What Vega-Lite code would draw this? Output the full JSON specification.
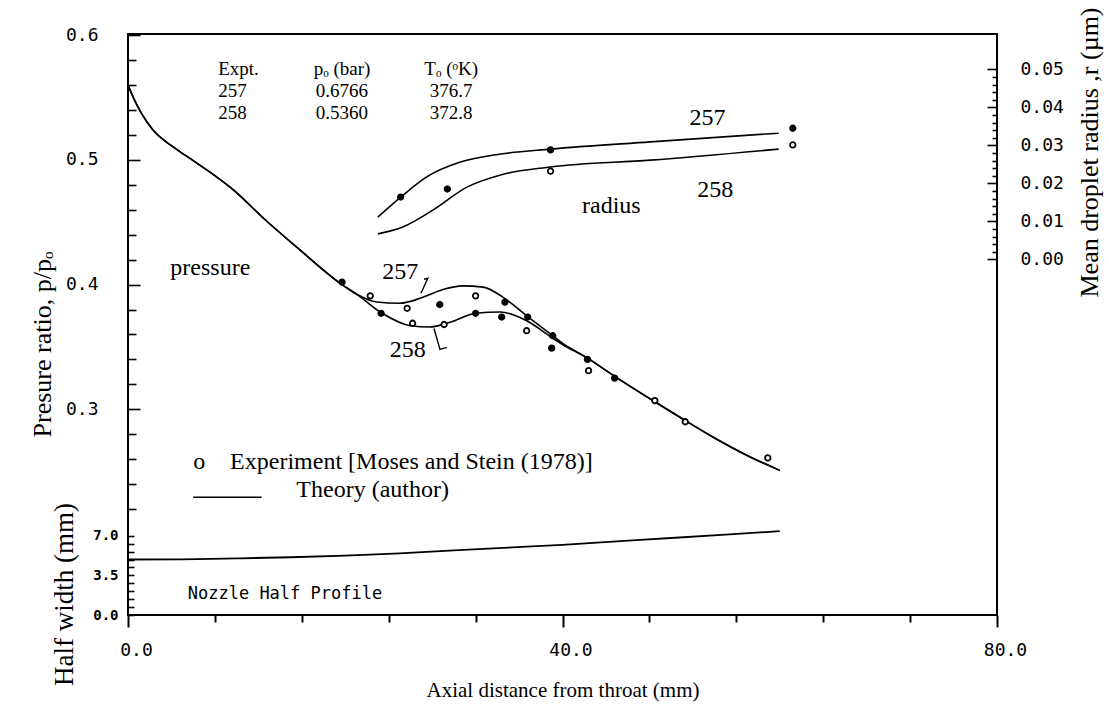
{
  "$schema": "https://vega.github.io/schema/vega-lite/v6.json",
  "width": 869,
  "height": 581,
  "autosize": {"type": "none"},
  "padding": {"left": 128, "top": 34, "right": 112, "bottom": 98},
  "background": "white",
  "config": {
    "view": {"stroke": "black", "strokeWidth": 2},
    "axis": {"grid": false, "domain": false, "tickColor": "black", "labelColor": "black", "titleColor": "black", "tickWidth": 1.6, "labelOverlap": false, "labelFlush": false, "titleFont": "Liberation Serif", "titleFontSize": 26, "titleFontWeight": "normal"},
    "text": {"font": "Liberation Serif", "fontSize": 24, "color": "black"}
  },
  "datasets": {
    "pressureTheory": [
      {"expt": "257", "x": 0, "p": 0.56}, {"expt": "257", "x": 0.6, "p": 0.548}, {"expt": "257", "x": 1.2, "p": 0.538}, {"expt": "257", "x": 2.3, "p": 0.524}, {"expt": "257", "x": 3.9, "p": 0.512}, {"expt": "257", "x": 5.4, "p": 0.503}, {"expt": "257", "x": 7.9, "p": 0.488}, {"expt": "257", "x": 9.7, "p": 0.476}, {"expt": "257", "x": 12.5, "p": 0.453}, {"expt": "257", "x": 15.8, "p": 0.428}, {"expt": "257", "x": 19.7, "p": 0.4}, {"expt": "257", "x": 21.1, "p": 0.392},
      {"expt": "257", "x": 22.9, "p": 0.386}, {"expt": "257", "x": 25.0, "p": 0.385}, {"expt": "257", "x": 27.2, "p": 0.39}, {"expt": "257", "x": 29.0, "p": 0.396}, {"expt": "257", "x": 30.8, "p": 0.399}, {"expt": "257", "x": 32.7, "p": 0.398}, {"expt": "257", "x": 34.5, "p": 0.39}, {"expt": "257", "x": 36.7, "p": 0.375}, {"expt": "257", "x": 39.1, "p": 0.359}, {"expt": "257", "x": 40.0, "p": 0.353},
      {"expt": "257", "x": 42.3, "p": 0.341}, {"expt": "257", "x": 44.7, "p": 0.327}, {"expt": "257", "x": 48.5, "p": 0.306}, {"expt": "257", "x": 51.3, "p": 0.291}, {"expt": "257", "x": 54, "p": 0.277}, {"expt": "257", "x": 57, "p": 0.263}, {"expt": "257", "x": 60, "p": 0.251},
      {"expt": "258", "x": 0, "p": 0.56}, {"expt": "258", "x": 0.6, "p": 0.548}, {"expt": "258", "x": 1.2, "p": 0.538}, {"expt": "258", "x": 2.3, "p": 0.524}, {"expt": "258", "x": 3.9, "p": 0.512}, {"expt": "258", "x": 5.4, "p": 0.503}, {"expt": "258", "x": 7.9, "p": 0.488}, {"expt": "258", "x": 9.7, "p": 0.476}, {"expt": "258", "x": 12.5, "p": 0.453}, {"expt": "258", "x": 15.8, "p": 0.428}, {"expt": "258", "x": 19.7, "p": 0.4}, {"expt": "258", "x": 21.1, "p": 0.392},
      {"expt": "258", "x": 23.4, "p": 0.377}, {"expt": "258", "x": 26.0, "p": 0.367}, {"expt": "258", "x": 27.8, "p": 0.366}, {"expt": "258", "x": 29.7, "p": 0.37}, {"expt": "258", "x": 32.0, "p": 0.377}, {"expt": "258", "x": 34.3, "p": 0.378}, {"expt": "258", "x": 36.7, "p": 0.371}, {"expt": "258", "x": 39.1, "p": 0.357}, {"expt": "258", "x": 40.0, "p": 0.352},
      {"expt": "258", "x": 42.3, "p": 0.341}, {"expt": "258", "x": 44.7, "p": 0.327}, {"expt": "258", "x": 48.5, "p": 0.306}, {"expt": "258", "x": 51.3, "p": 0.291}, {"expt": "258", "x": 54, "p": 0.277}, {"expt": "258", "x": 57, "p": 0.263}, {"expt": "258", "x": 60, "p": 0.251}
    ],
    "pressureExpt": [
      {"expt": "258", "x": 19.7, "p": 0.402}, {"expt": "257", "x": 22.3, "p": 0.391}, {"expt": "258", "x": 23.3, "p": 0.377}, {"expt": "257", "x": 25.7, "p": 0.381}, {"expt": "257", "x": 26.2, "p": 0.369}, {"expt": "258", "x": 28.7, "p": 0.384}, {"expt": "257", "x": 29.1, "p": 0.368}, {"expt": "257", "x": 32.0, "p": 0.391}, {"expt": "258", "x": 32.0, "p": 0.377}, {"expt": "258", "x": 34.4, "p": 0.374}, {"expt": "258", "x": 34.7, "p": 0.386}, {"expt": "257", "x": 36.7, "p": 0.363}, {"expt": "258", "x": 36.8, "p": 0.374}, {"expt": "258", "x": 39.1, "p": 0.359}, {"expt": "258", "x": 39.0, "p": 0.349}, {"expt": "258", "x": 42.3, "p": 0.34}, {"expt": "257", "x": 42.4, "p": 0.331}, {"expt": "258", "x": 44.8, "p": 0.325}, {"expt": "257", "x": 48.5, "p": 0.307}, {"expt": "257", "x": 51.3, "p": 0.29}, {"expt": "257", "x": 58.9, "p": 0.261}
    ],
    "leaders": [
      {"label": "257", "seq": 1, "x": 27.25, "p": 0.4043}, {"label": "257", "seq": 2, "x": 27.6, "p": 0.4051}, {"label": "257", "seq": 3, "x": 26.97, "p": 0.3931},
      {"label": "258", "seq": 1, "x": 29.34, "p": 0.3496}, {"label": "258", "seq": 2, "x": 28.72, "p": 0.348}, {"label": "258", "seq": 3, "x": 28.17, "p": 0.3648}
    ],
    "radiusTheory": [
      {"expt": "257", "x": 23.0, "r": 0.0111}, {"expt": "257", "x": 25.0, "r": 0.0161}, {"expt": "257", "x": 27.5, "r": 0.0217}, {"expt": "257", "x": 30.6, "r": 0.0256}, {"expt": "257", "x": 34.3, "r": 0.0277}, {"expt": "257", "x": 38.9, "r": 0.029}, {"expt": "257", "x": 48.1, "r": 0.0309}, {"expt": "257", "x": 59.9, "r": 0.0332},
      {"expt": "258", "x": 23.0, "r": 0.0067}, {"expt": "258", "x": 25.3, "r": 0.0085}, {"expt": "258", "x": 28.1, "r": 0.013}, {"expt": "258", "x": 31.2, "r": 0.019}, {"expt": "258", "x": 34.3, "r": 0.0222}, {"expt": "258", "x": 38.9, "r": 0.0243}, {"expt": "258", "x": 48.1, "r": 0.0261}, {"expt": "258", "x": 59.9, "r": 0.029}
    ],
    "radiusExpt": [
      {"expt": "257", "x": 25.1, "r": 0.0164}, {"expt": "257", "x": 29.4, "r": 0.0185}, {"expt": "257", "x": 38.9, "r": 0.0288}, {"expt": "258", "x": 38.9, "r": 0.0232}, {"expt": "257", "x": 61.2, "r": 0.0345}, {"expt": "258", "x": 61.2, "r": 0.0301}
    ],
    "nozzle": [
      {"x": 0, "h": 4.9}, {"x": 5, "h": 4.92}, {"x": 10, "h": 5.0}, {"x": 15, "h": 5.1}, {"x": 20, "h": 5.25}, {"x": 25, "h": 5.45}, {"x": 30, "h": 5.7}, {"x": 35, "h": 5.95}, {"x": 40, "h": 6.2}, {"x": 45, "h": 6.5}, {"x": 50, "h": 6.8}, {"x": 55, "h": 7.1}, {"x": 60, "h": 7.4}
    ]
  },
  "layer": [
    {
      "layer": [
        {
          "data": {"name": "pressureTheory"},
          "mark": {"type": "line", "color": "black", "strokeWidth": 1.6, "interpolate": "monotone"},
          "encoding": {
            "x": {"field": "x", "type": "quantitative", "scale": {"domain": [0, 80], "nice": false, "zero": false},
              "axis": {"orient": "bottom", "values": [0, 8, 16, 24, 32, 40, 48, 56, 64, 72, 80], "tickCount": 100,
                "labelExpr": "datum.value % 40 === 0 ? format(datum.value, '.1f') : ''",
                "tickSize": {"condition": {"test": "datum.value % 40 === 0", "value": 12}, "value": 7},
                "tickWidth": 2, "labelFont": "DejaVu Sans Mono", "labelFontSize": 18, "labelPadding": 14, "labelOffset": 8,
                "title": "Axial distance from throat (mm)", "titleFontSize": 21, "titleY": 75, "titleBaseline": "middle"}},
            "y": {"field": "p", "type": "quantitative", "scale": {"domain": [0.135, 0.601], "nice": false, "zero": false},
              "axis": {"orient": "left", "values": [0.22, 0.24, 0.26, 0.28, 0.3, 0.32, 0.34, 0.36, 0.38, 0.4, 0.42, 0.44, 0.46, 0.48, 0.5, 0.52, 0.54, 0.56, 0.58, 0.6], "tickCount": 100,
                "labelExpr": "abs(datum.value * 10 - round(datum.value * 10)) < 0.001 ? format(datum.value, '.1f') : ''",
                "tickSize": {"condition": {"test": "abs(datum.value * 10 - round(datum.value * 10)) < 0.001", "value": -12}, "value": -8},
                "labelPadding": 42, "labelFont": "DejaVu Sans Mono", "labelFontSize": 18,
                "title": "Presure  ratio,  p/pₒ", "titleX": -86, "titleY": 310, "titleAngle": 270, "titleBaseline": "middle", "titleAlign": "center"}},
            "detail": {"field": "expt", "type": "nominal"}
          }
        },
        {
          "data": {"name": "pressureExpt"},
          "mark": {"type": "point", "shape": "circle", "size": 30, "stroke": "black", "strokeWidth": 1.8, "opacity": 1, "fillOpacity": 1},
          "encoding": {
            "x": {"field": "x", "type": "quantitative"},
            "y": {"field": "p", "type": "quantitative"},
            "fill": {"field": "expt", "type": "nominal", "scale": {"domain": ["257", "258"], "range": ["white", "black"]}, "legend": null}
          }
        },
        {
          "data": {"name": "leaders"},
          "mark": {"type": "line", "color": "black", "strokeWidth": 1.4},
          "encoding": {
            "x": {"field": "x", "type": "quantitative"},
            "y": {"field": "p", "type": "quantitative"},
            "detail": {"field": "label", "type": "nominal"},
            "order": {"field": "seq", "type": "quantitative"}
          }
        },
        {"data": {"values": [{}]}, "mark": {"type": "text", "align": "left", "baseline": "middle", "fontSize": 19, "lineHeight": 22}, "encoding": {"x": {"datum": 8.3}, "y": {"datum": 0.5727}, "text": {"value": ["Expt.", "257", "258"]}}},
        {"data": {"values": [{}]}, "mark": {"type": "text", "align": "center", "baseline": "middle", "fontSize": 19, "lineHeight": 22}, "encoding": {"x": {"datum": 19.7}, "y": {"datum": 0.5727}, "text": {"value": ["pₒ (bar)", "0.6766", "0.5360"]}}},
        {"data": {"values": [{}]}, "mark": {"type": "text", "align": "center", "baseline": "middle", "fontSize": 19, "lineHeight": 22}, "encoding": {"x": {"datum": 29.75}, "y": {"datum": 0.5727}, "text": {"value": ["Tₒ (ᵒK)", "376.7", "372.8"]}}},
        {"data": {"values": [{}]}, "mark": {"type": "text", "align": "left", "baseline": "middle"}, "encoding": {"x": {"datum": 3.9}, "y": {"datum": 0.4132}, "text": {"value": "pressure"}}},
        {"data": {"values": [{}]}, "mark": {"type": "text", "align": "left", "baseline": "middle"}, "encoding": {"x": {"datum": 23.4}, "y": {"datum": 0.41}, "text": {"value": "257"}}},
        {"data": {"values": [{}]}, "mark": {"type": "text", "align": "left", "baseline": "middle"}, "encoding": {"x": {"datum": 24.1}, "y": {"datum": 0.3474}, "text": {"value": "258"}}},
        {"data": {"values": [{}]}, "mark": {"type": "text", "align": "left", "baseline": "middle"}, "encoding": {"x": {"datum": 6.0}, "y": {"datum": 0.2576}, "text": {"value": "o"}}},
        {"data": {"values": [{}]}, "mark": {"type": "text", "align": "left", "baseline": "middle"}, "encoding": {"x": {"datum": 9.4}, "y": {"datum": 0.2576}, "text": {"value": "Experiment [Moses and Stein (1978)]"}}},
        {"data": {"values": [{}]}, "mark": {"type": "text", "align": "left", "baseline": "middle"}, "encoding": {"x": {"datum": 15.5}, "y": {"datum": 0.2351}, "text": {"value": "Theory  (author)"}}},
        {"data": {"values": [{}]}, "mark": {"type": "rule", "color": "black", "strokeWidth": 1.6}, "encoding": {"x": {"datum": 6.0}, "x2": {"datum": 12.3}, "y": {"datum": 0.2295}}}
      ]
    },
    {
      "layer": [
        {
          "data": {"name": "nozzle"},
          "mark": {"type": "line", "color": "black", "strokeWidth": 1.8, "interpolate": "monotone"},
          "encoding": {
            "x": {"field": "x", "type": "quantitative"},
            "y": {"field": "h", "type": "quantitative", "scale": {"domain": [0, 51.3], "nice": false, "zero": false},
              "axis": {"orient": "left", "values": [0, 0.7, 1.4, 2.1, 2.8, 3.5, 4.2, 4.9, 5.6, 6.3, 7.0], "tickCount": 100,
                "labelExpr": "(datum.value === 0 || datum.value === 3.5 || datum.value === 7) ? format(datum.value, '.1f') : ''",
                "tickSize": -6, "labelPadding": 16, "labelFont": "DejaVu Sans Mono", "labelFontSize": 14, "labelFontWeight": "bold",
                "title": "Half width (mm)", "titleFontSize": 27, "titleX": -64, "titleY": 560, "titleAngle": 270, "titleBaseline": "middle", "titleAlign": "center"}}
          }
        },
        {"data": {"values": [{}]}, "mark": {"type": "text", "align": "left", "baseline": "middle", "font": "DejaVu Sans Mono", "fontSize": 17}, "encoding": {"x": {"datum": 5.5}, "y": {"datum": 1.85}, "text": {"value": "Nozzle Half Profile"}}}
      ]
    },
    {
      "layer": [
        {
          "data": {"name": "radiusTheory"},
          "mark": {"type": "line", "color": "black", "strokeWidth": 1.6, "interpolate": "monotone"},
          "encoding": {
            "x": {"field": "x", "type": "quantitative"},
            "y": {"field": "r", "type": "quantitative", "scale": {"domain": [-0.0936, 0.0593], "nice": false, "zero": false},
              "axis": {"orient": "right", "values": [0, 0.002, 0.004, 0.006, 0.008, 0.01, 0.012, 0.014, 0.016, 0.018, 0.02, 0.022, 0.024, 0.026, 0.028, 0.03, 0.032, 0.034, 0.036, 0.038, 0.04, 0.042, 0.044, 0.046, 0.048, 0.05], "tickCount": 100,
                "labelExpr": "abs(datum.value * 100 - round(datum.value * 100)) < 0.001 ? format(datum.value, '.2f') : ''",
                "tickSize": {"condition": {"test": "abs(datum.value * 100 - round(datum.value * 100)) < 0.001", "value": -10}, "value": -5},
                "labelPadding": 33, "labelFont": "DejaVu Sans Mono", "labelFontSize": 18,
                "title": "Mean droplet radius ,r (µm)", "titleX": 92, "titleY": 118, "titleAngle": 270, "titleBaseline": "middle", "titleAlign": "center"}},
            "detail": {"field": "expt", "type": "nominal"}
          }
        },
        {
          "data": {"name": "radiusExpt"},
          "mark": {"type": "point", "shape": "circle", "size": 30, "stroke": "black", "strokeWidth": 1.8, "opacity": 1, "fillOpacity": 1},
          "encoding": {
            "x": {"field": "x", "type": "quantitative"},
            "y": {"field": "r", "type": "quantitative"},
            "fill": {"field": "expt", "type": "nominal", "scale": {"domain": ["257", "258"], "range": ["black", "white"]}, "legend": null}
          }
        },
        {"data": {"values": [{}]}, "mark": {"type": "text", "align": "left", "baseline": "middle"}, "encoding": {"x": {"datum": 51.7}, "y": {"datum": 0.0372}, "text": {"value": "257"}}},
        {"data": {"values": [{}]}, "mark": {"type": "text", "align": "left", "baseline": "middle"}, "encoding": {"x": {"datum": 52.4}, "y": {"datum": 0.0182}, "text": {"value": "258"}}},
        {"data": {"values": [{}]}, "mark": {"type": "text", "align": "left", "baseline": "middle"}, "encoding": {"x": {"datum": 41.8}, "y": {"datum": 0.014}, "text": {"value": "radius"}}}
      ]
    }
  ],
  "resolve": {"scale": {"y": "independent", "fill": "independent"}, "axis": {"y": "independent"}}
}
